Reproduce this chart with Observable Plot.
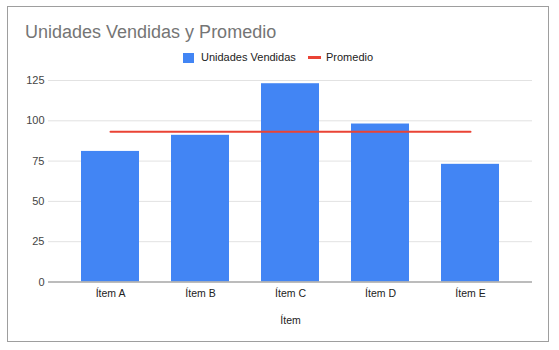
<!DOCTYPE html>
<html><head><meta charset="utf-8">
<script src="https://cdn.jsdelivr.net/npm/d3@7"></script>
<script src="https://cdn.jsdelivr.net/npm/@observablehq/plot@0.6"></script>
<style>
body{margin:0;width:559px;height:350px;position:relative;background:#fff;font-family:"Liberation Sans",Arial,sans-serif;overflow:hidden}
#frame{position:absolute;left:7px;top:6px;width:540px;height:334px;border:1px solid #9e9e9e;box-sizing:content-box}
#title{position:absolute;left:25px;top:23px;font-size:18px;line-height:18px;color:#757575;white-space:nowrap}
.lg{position:absolute;font-size:11px;line-height:11px;color:#222;white-space:nowrap;top:52px}
#sw1{position:absolute;left:183px;top:53px;width:11px;height:10px;background:#4285f4}
#sw2{position:absolute;left:308px;top:56px;width:13px;height:3px;background:#ea4335}
#chart{position:absolute;left:0;top:70px}
</style></head>
<body>
<div id="frame"></div>
<div id="title">Unidades Vendidas y Promedio</div>
<div id="sw1"></div><div class="lg" style="left:201px">Unidades Vendidas</div>
<div id="sw2"></div><div class="lg" style="left:326px">Promedio</div>
<div id="chart"></div>
<script>
const items = ["Ítem A", "Ítem B", "Ítem C", "Ítem D", "Ítem E"];
const unidades = [81, 91, 123, 98, 73];
const promedio = [93.2, 93.2, 93.2, 93.2, 93.2];
const yTicks = [0, 25, 50, 75, 100, 125];
const xLabel = "Ítem";

const data = items.map((item, i) => ({item, unidades: unidades[i], promedio: promedio[i]}));

const plot = Plot.plot({
  width: 559,
  height: 270,
  marginTop: 10,
  marginBottom: 58.5,
  marginLeft: 48,
  marginRight: 27,
  style: {fontFamily: '"Liberation Sans", Arial, sans-serif', fontSize: "10.5px", color: "#222", background: "transparent"},
  x: {domain: items, paddingInner: 0.357, paddingOuter: 0.348, label: null},
  y: {domain: [0, 125], ticks: yTicks, label: null},
  marks: [
    Plot.ruleY(yTicks.filter(d => d > 0), {stroke: "#e2e2e2", strokeWidth: 1}),
    Plot.barY(data, {x: "item", y: "unidades", fill: "#4285f4"}),
    Plot.ruleY([0], {stroke: "#a6a6a6", strokeWidth: 1.5}),
    Plot.lineY(data, {x: "item", y: "promedio", stroke: "#ea4335", strokeWidth: 2}),
    Plot.axisY({ticks: yTicks, tickSize: 0, tickPadding: 4, label: null, fill: "#444", fontSize: 11}),
    Plot.axisX({tickSize: 0, tickPadding: 7.5, label: null, fill: "#222"}),
    Plot.text([xLabel], {frameAnchor: "bottom", lineAnchor: "bottom", dy: 41.5, fill: "#222", fontSize: 10.5})
  ]
});
document.getElementById("chart").appendChild(plot);
</script>
</body></html>
